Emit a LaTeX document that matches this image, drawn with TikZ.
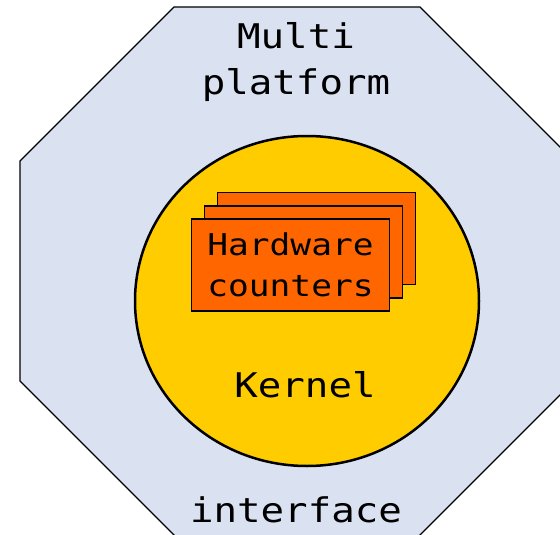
\documentclass[tikz,border=0pt]{standalone}
\usepackage{fontspec}
\newfontfamily\labelfont[FakeStretch=1.15]{DejaVu Sans Mono}
\usetikzlibrary{shapes.geometric}
\definecolor{shellblue}{RGB}{218,226,242}
\definecolor{kernelyellow}{RGB}{255,204,0}
\definecolor{counterorange}{RGB}{255,102,0}
\tikzset{
  biglabel/.style={font=\labelfont\fontsize{34}{46}\selectfont, align=center, inner sep=0pt},
  counterbox/.style={draw=black, line width=1.1pt, fill=counterorange,
    minimum width=198pt, minimum height=92pt, inner sep=0pt},
  counterlabel/.style={font=\labelfont\fontsize{30}{41}\selectfont, align=center}
}
\begin{document}
\begin{tikzpicture}[x=1pt, y=-1pt]
  \useasboundingbox (0,0) rectangle (560,535);
  \clip (0,0) rectangle (560,535);
  % outer octagonal shell
  \draw[fill=shellblue, line width=1.1pt]
    (174,7) -- (420,7) -- (574,161) -- (574,381) -- (418,537)
    -- (176,537) -- (20,381) -- (20,161) -- cycle;
  % kernel core
  \node[ellipse, draw=black, line width=2.5pt, fill=kernelyellow,
        minimum width=344pt, minimum height=330pt, inner sep=0pt] (kernel) at (307,301) {};
  % stacked hardware counter cards
  \node[counterbox] (cardback) at (316.5,238.5) {};
  \node[counterbox] (cardmid) at (303.5,252) {};
  \node[counterbox] (cardfront) at (290.5,265) {};
  \node[counterlabel] (hwtext) at (cardfront.center) {Hardware\\counters};
  % labels
  \node[biglabel] (multi) at (296,62) {Multi\\platform};
  \node[biglabel, anchor=base] (kerneltext) at (305,397) {Kernel};
  \node[biglabel, anchor=base] (iface) at (296,522) {interface};
\end{tikzpicture}
\end{document}
